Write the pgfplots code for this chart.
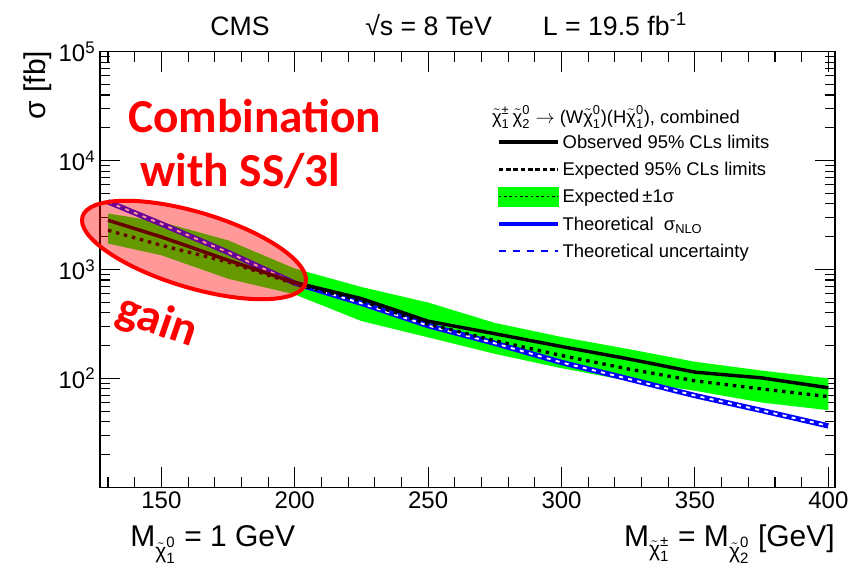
\documentclass[border=0pt]{standalone}
\usepackage{pgfplots}
\pgfplotsset{compat=1.18}
\usepgfplotslibrary{fillbetween}
\usepackage{pgfplotstable}
\usepackage{amsmath}
\usepackage{fontspec}
\setmainfont{Liberation Sans}
\newfontfamily\calibri{Carlito}
\newcommand{\chit}[2]{\tilde{\text{χ}}^{\text{#1}}_{\text{#2}}}
\newcommand{\ls}{\rule[-5pt]{0pt}{16pt}}

\pgfplotstableread{
x   obs   exp   up    lo    th
130 2830  2290  3265  1730  4180
150 1990  1667  2730  1350  2620
175 1215  1170  1853  822   1435
200 760   740   1020  590   750
225 540   515   690   336   489
250 335   315   497   238   305
275 257   222   323   168   210
300 196   162   240   124   140
325 151   122   186   95    99
350 114   95    142   77    69.5
375 101   80    118   60    50.7
400 82    68    100   51    36.6
}\data

\begin{document}
\begin{tikzpicture}
\begin{axis}[
  at={(75pt,59.8pt)}, anchor=south west,
  scale only axis, width=551.25pt, height=326.7pt,
  xmin=127, xmax=402.5, ymin=10, ymax=1e5, ymode=log,
  xtick={150,200,250,300,350,400},
  minor xtick={130,140,...,400},
  ytick={10,100,1000,10000,100000},
  yticklabels={{},10\textsuperscript{2},10\textsuperscript{3},10\textsuperscript{4},10\textsuperscript{5}},
  /pgf/number format/assume math mode=true,
  ticklabel style={font=\fontsize{18pt}{20pt}\selectfont},
  major tick length=15pt, minor tick length=7.5pt,
  axis line style={line width=1.1pt},
  tick style={black, line width=0.8pt},
  legend image code/.code={\draw[#1] (0pt,0pt) -- (44.5pt,0pt);},
  legend style={at={(rel axis cs:0.5397,0.818)}, anchor=north west, draw=none, fill=none,
    inner sep=0pt, outer sep=0pt, row sep=4pt,
    font=\fontsize{13.8pt}{15pt}\selectfont,
    /tikz/every even column/.append style={column sep=11.5pt}},
  legend cell align=left,
]
\addplot[name path=up, draw=none, forget plot] table[x=x, y=up] {\data};
\addplot[name path=lo, draw=none, forget plot] table[x=x, y=lo] {\data};
\addplot[green, forget plot] fill between[of=up and lo];
\addplot[blue, line width=4pt, forget plot] table[x=x, y=th] {\data};
\addplot[white, line width=1.4pt, dash pattern=on 3pt off 4pt, forget plot] table[x=x, y=th] {\data};
\addplot[black, line width=2.5pt, dash pattern=on 2.6pt off 3.6pt, forget plot] table[x=x, y=exp] {\data};
\addplot[black, line width=2.6pt, forget plot] table[x=x, y=obs] {\data};

\addlegendimage{black, line width=2.5pt}
\addlegendentry{\ls Observed 95\% CLs limits}
\addlegendimage{black, line width=2.5pt, dash pattern=on 3.5pt off 2pt}
\addlegendentry{\ls Expected 95\% CLs limits}
\addlegendimage{legend image code/.code={\path (0pt,-1pt) rectangle (44.5pt,1pt); \fill[green, overlay] (0pt,-7pt) rectangle (44.5pt,7pt); \draw[black, overlay, line width=0.4pt, dash pattern=on 2pt off 2pt] (0pt,0pt) -- (44.5pt,0pt);}}
\addlegendentry{\ls Expected\,±1σ}
\addlegendimage{blue, line width=3pt}
\addlegendentry{\ls Theoretical \ σ\textsubscript{NLO}}
\addlegendimage{legend image code/.code={\draw[draw=blue, line width=1.3pt, dash pattern=on 5.5pt off 5pt] (0pt,0pt) -- (44.5pt,0pt);}}
\addlegendentry{\ls Theoretical uncertainty}
\end{axis}

% annotation ellipse
\draw[red, line width=3pt, fill=red, fill opacity=0.4] (145.5pt,237.75pt) circle [x radius=87.3pt, y radius=28.3pt, rotate=-16.7];

% title
\node[anchor=base, inner sep=0pt, font=\fontsize{20pt}{24pt}\selectfont] at (180pt,398.25pt) {CMS};
\node[anchor=base west, inner sep=0pt, font=\fontsize{20pt}{24pt}\selectfont] at (273.75pt,398.25pt) {√s = 8 TeV};
\node[anchor=base west, inner sep=0pt, font=\fontsize{20pt}{24pt}\selectfont] at (407pt,398.25pt) {L = 19.5 fb\textsuperscript{-1}};

% axis labels
\node[rotate=90, inner sep=0pt, font=\fontsize{22.5pt}{26pt}\selectfont] at (28.5pt,361.5pt) {σ [fb]};
\node[anchor=base west, inner sep=0pt, font=\fontsize{22.5pt}{26pt}\selectfont] at (97.5pt,15pt) {M$_{\chit{0}{1}}$ = 1 GeV};
\node[anchor=base east, inner sep=0pt, font=\fontsize{22.5pt}{26pt}\selectfont] at (626.25pt,15pt) {M$_{\chit{±}{1}}$ = M$_{\chit{0}{2}}$ [GeV]};

% legend header
\node[anchor=west, inner sep=0pt, font=\fontsize{13.8pt}{15pt}\selectfont] at (368.8pt,337.7pt) {$\chit{±}{1}\,\chit{0}{2}\rightarrow$ (W$\chit{0}{1}$)(H$\chit{0}{1}$), combined};

% red annotations
\node[anchor=base west, inner sep=0pt, text=red, font=\calibri\bfseries\fontsize{35.5pt}{40pt}\selectfont] at (96pt,325.5pt) {Combination};
\node[anchor=base west, inner sep=0pt, text=red, font=\calibri\bfseries\fontsize{35.5pt}{40pt}\selectfont] at (105pt,285pt) {with SS/3l};
\node[rotate=-19, inner sep=0pt, text=red, font=\calibri\bfseries\fontsize{35.5pt}{40pt}\selectfont] at (117.75pt,183.75pt) {gain};

\pgfresetboundingbox
\useasboundingbox (0,0) rectangle (637.5pt,425.25pt);
\end{tikzpicture}
\end{document}
